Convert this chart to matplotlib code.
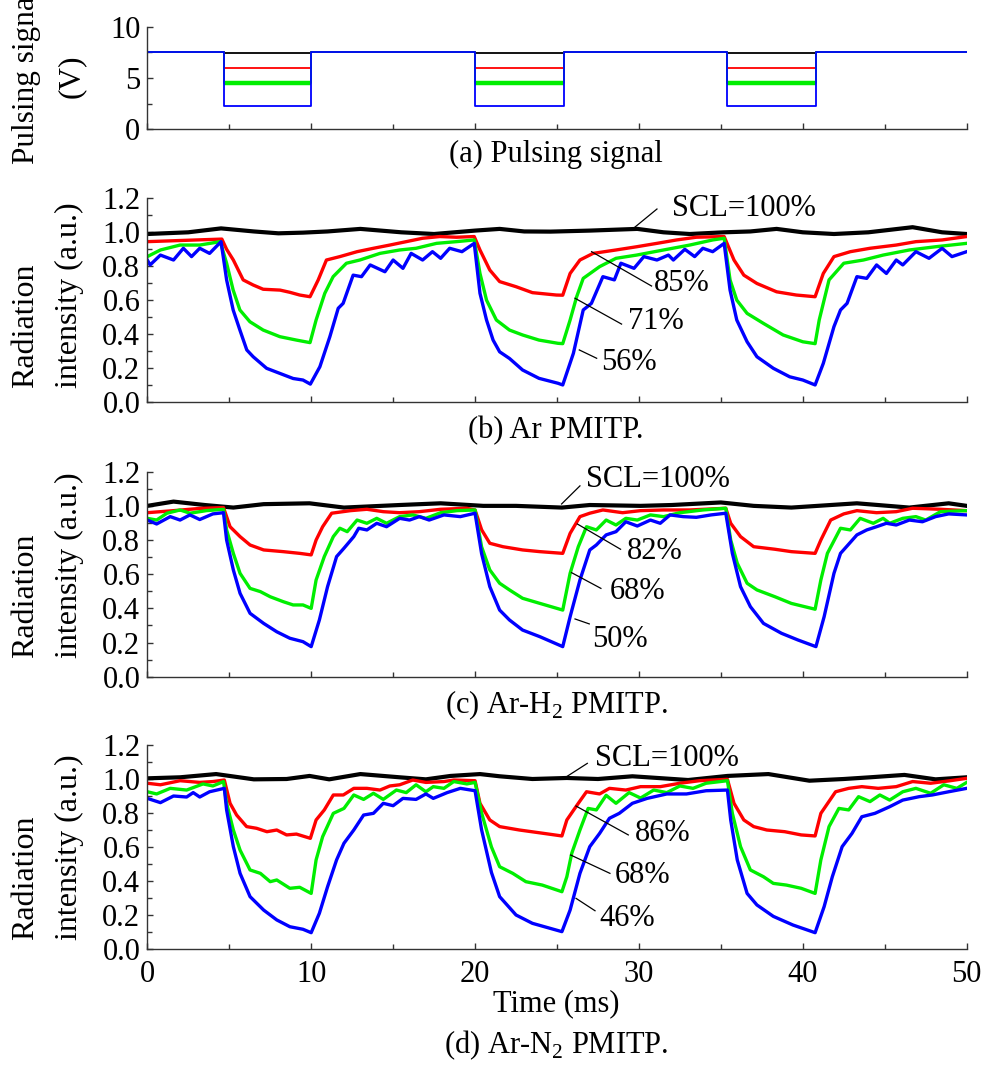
import matplotlib
matplotlib.use("Agg")
import matplotlib.pyplot as plt
from matplotlib.ticker import MultipleLocator

plt.rcParams['font.family'] = 'Liberation Serif'
plt.rcParams['mathtext.fontset'] = 'custom'
plt.rcParams['mathtext.rm'] = 'Liberation Serif'
plt.rcParams['font.size'] = 22

COLORS = ['black', '#ff0000', '#00ee00', '#0000ff']

# (a) pulsing signal: low intervals (ms) and voltage levels
PULSE_LOW = [(4.65, 10.0), (20.0, 25.4), (35.4, 40.8)]
PULSE_HIGH = 7.5
PULSE_LEVEL = [7.45, 5.95, 4.5, 2.3]   # black, red, green, blue during the low part

# (b) Ar PMITP
B_BLACK_T = [0, 2.5, 4.5, 6.5, 8, 9.5, 11, 13, 15.5, 17.5, 20, 21.5, 23, 24.6, 27, 29.9, 31.5, 33.1, 35.2, 36.8, 38.4, 40, 41.9, 44, 46.7, 48.5, 50]
B_BLACK_V = [0.99, 1.0, 1.023, 1.005, 0.994, 0.998, 1.005, 1.02, 1.0, 0.99, 1.01, 1.02, 1.005, 1.004, 1.01, 1.02, 1.0, 0.99, 1.0, 1.005, 1.02, 1.0, 0.99, 1.0, 1.03, 1.0, 0.99]
B_RED_T = [0, 3, 4.55, 4.84, 5.25, 5.85, 6.46, 7.07, 8.1, 8.7, 9.3, 9.93, 10.43, 10.93, 11.75, 12.8, 13.8, 14.8, 15.8, 16.8, 17.85, 18.86, 19.95, 20.3, 20.9, 21.5, 22.5, 23.5, 24.96, 25.35, 25.8, 26.4, 27.2, 28.6, 29.86, 31.1, 32.3, 33.5, 35.2, 35.8, 36.4, 37.2, 38.4, 39.6, 40.75, 41.25, 41.9, 42.9, 44.1, 45.7, 46.9, 48.5, 50]
B_RED_V = [0.945, 0.955, 0.96, 0.9, 0.837, 0.72, 0.69, 0.665, 0.66, 0.647, 0.631, 0.621, 0.72, 0.837, 0.857, 0.886, 0.906, 0.925, 0.945, 0.965, 0.975, 0.971, 0.975, 0.896, 0.778, 0.71, 0.68, 0.645, 0.631, 0.63, 0.758, 0.837, 0.876, 0.896, 0.915, 0.935, 0.955, 0.971, 0.975, 0.837, 0.748, 0.699, 0.65, 0.631, 0.621, 0.758, 0.857, 0.886, 0.906, 0.925, 0.945, 0.955, 0.975]
B_GREEN_T = [0, 0.8, 2.0, 3.2, 4.45, 4.84, 5.24, 5.65, 6.26, 7.07, 8.09, 9.1, 9.93, 10.3, 10.83, 11.34, 12.15, 12.97, 14.2, 15.4, 16.4, 17.65, 18.86, 19.95, 20.3, 20.7, 21.3, 22.1, 22.9, 23.9, 25.06, 25.35, 25.8, 26.2, 26.6, 27.6, 28.6, 29.86, 31.5, 33.1, 34.5, 35.2, 35.56, 35.97, 36.6, 37.6, 38.8, 40.0, 40.75, 41.0, 41.6, 42.5, 43.7, 44.9, 46.5, 48.1, 50]
B_GREEN_V = [0.857, 0.896, 0.925, 0.925, 0.945, 0.818, 0.66, 0.543, 0.474, 0.425, 0.386, 0.366, 0.351, 0.484, 0.641, 0.739, 0.818, 0.837, 0.876, 0.896, 0.906, 0.935, 0.945, 0.955, 0.758, 0.601, 0.484, 0.425, 0.396, 0.366, 0.347, 0.345, 0.484, 0.621, 0.729, 0.798, 0.847, 0.866, 0.896, 0.925, 0.955, 0.965, 0.72, 0.601, 0.523, 0.464, 0.396, 0.356, 0.345, 0.484, 0.72, 0.818, 0.837, 0.866, 0.896, 0.915, 0.935]
B_BLUE_T = [0, 0.17, 0.8, 1.6, 2.2, 2.7, 3.2, 3.8, 4.5, 4.84, 5.24, 5.65, 6.07, 6.46, 7.28, 8.09, 8.9, 9.5, 9.95, 10.53, 11.14, 11.65, 11.95, 12.56, 13.07, 13.6, 14.5, 15.0, 15.6, 16.1, 16.8, 17.4, 17.9, 18.45, 19.2, 19.95, 20.3, 20.7, 21.1, 21.5, 22.1, 22.9, 23.9, 25.06, 25.35, 26.0, 26.6, 27.1, 27.8, 28.5, 28.9, 29.7, 30.3, 31.1, 31.8, 32.1, 32.8, 33.4, 33.9, 34.5, 35.2, 35.56, 35.97, 36.6, 37.2, 38.2, 39.2, 40.0, 40.75, 41.25, 41.9, 42.3, 42.7, 43.3, 43.9, 44.5, 45.1, 45.7, 46.1, 46.9, 47.7, 48.5, 49.1, 50]
B_BLUE_V = [0.837, 0.808, 0.866, 0.837, 0.906, 0.857, 0.906, 0.876, 0.945, 0.72, 0.543, 0.425, 0.308, 0.268, 0.2, 0.17, 0.14, 0.131, 0.107, 0.209, 0.386, 0.553, 0.582, 0.748, 0.739, 0.808, 0.768, 0.837, 0.788, 0.876, 0.837, 0.886, 0.847, 0.906, 0.886, 0.935, 0.641, 0.484, 0.366, 0.297, 0.258, 0.19, 0.141, 0.112, 0.102, 0.288, 0.543, 0.582, 0.739, 0.72, 0.818, 0.788, 0.857, 0.837, 0.866, 0.837, 0.9, 0.857, 0.906, 0.886, 0.935, 0.66, 0.484, 0.356, 0.268, 0.2, 0.15, 0.131, 0.102, 0.229, 0.445, 0.543, 0.582, 0.739, 0.729, 0.808, 0.758, 0.837, 0.808, 0.886, 0.847, 0.906, 0.857, 0.886]

# (c) Ar-H2 PMITP
C_BLACK_T = [0, 1.6, 3.5, 5.25, 7.1, 9.9, 12, 15.4, 17.9, 20.5, 22.5, 25.3, 27, 30.1, 32, 35, 37, 39.3, 43.3, 46.5, 48.9, 50]
C_BLACK_V = [1.0, 1.025, 1.005, 0.99, 1.01, 1.015, 0.99, 1.005, 1.015, 1.0, 1.0, 0.99, 1.005, 1.0, 1.005, 1.02, 1.0, 0.99, 1.015, 0.99, 1.015, 1.0]
C_RED_T = [0, 1.6, 3.2, 4.65, 5.05, 5.66, 6.27, 7.1, 8.3, 9.3, 10.0, 10.3, 10.7, 11.25, 12.4, 13.4, 14.4, 15.4, 16.6, 17.9, 19.5, 20.0, 20.4, 20.9, 21.7, 22.9, 23.96, 25.35, 25.8, 26.4, 27.0, 27.8, 29.0, 30.1, 31.5, 33.1, 35.3, 35.6, 36.2, 37.0, 38.3, 39.3, 40.75, 41.1, 41.7, 42.5, 43.3, 44.5, 45.7, 46.7, 48.4, 50]
C_RED_V = [0.96, 0.972, 0.985, 0.99, 0.878, 0.82, 0.771, 0.742, 0.732, 0.722, 0.713, 0.8, 0.878, 0.957, 0.972, 0.98, 0.966, 0.96, 0.966, 0.98, 0.986, 0.976, 0.86, 0.781, 0.761, 0.742, 0.732, 0.722, 0.839, 0.937, 0.957, 0.976, 0.96, 0.972, 0.976, 0.976, 0.986, 0.898, 0.82, 0.761, 0.746, 0.732, 0.722, 0.8, 0.917, 0.953, 0.972, 0.96, 0.966, 0.986, 0.98, 0.972]
C_GREEN_T = [0, 0.57, 1.2, 2.0, 2.6, 3.6, 4.65, 4.84, 5.25, 5.66, 6.27, 6.9, 7.5, 8.3, 8.9, 9.5, 10.0, 10.3, 10.8, 11.35, 11.75, 12.2, 12.8, 13.4, 14.0, 14.6, 15.4, 16.2, 17.0, 17.9, 18.9, 20.0, 20.4, 20.9, 21.5, 22.1, 22.9, 23.96, 25.35, 25.8, 26.3, 26.8, 27.4, 28.0, 28.6, 29.2, 29.9, 30.7, 31.5, 32.5, 33.9, 35.3, 35.6, 36.0, 36.6, 37.2, 38.3, 39.3, 40.75, 41.1, 41.5, 42.3, 42.9, 43.5, 44.3, 44.9, 45.3, 46.1, 46.9, 47.5, 48.4, 50]
C_GREEN_V = [0.927, 0.917, 0.957, 0.976, 0.957, 0.972, 0.98, 0.859, 0.722, 0.605, 0.517, 0.498, 0.468, 0.439, 0.42, 0.42, 0.4, 0.566, 0.703, 0.82, 0.869, 0.849, 0.917, 0.898, 0.927, 0.898, 0.937, 0.947, 0.927, 0.96, 0.972, 0.976, 0.76, 0.625, 0.547, 0.508, 0.459, 0.429, 0.39, 0.605, 0.761, 0.878, 0.859, 0.917, 0.888, 0.927, 0.917, 0.947, 0.937, 0.96, 0.976, 0.986, 0.8, 0.664, 0.547, 0.508, 0.468, 0.429, 0.395, 0.566, 0.722, 0.869, 0.859, 0.927, 0.898, 0.927, 0.898, 0.927, 0.937, 0.917, 0.966, 0.972]
C_BLUE_T = [0, 0.57, 1.4, 2.0, 2.6, 3.2, 4.0, 4.65, 4.84, 5.25, 5.66, 6.27, 7.1, 7.9, 8.7, 9.5, 10.0, 10.5, 11.0, 11.55, 12.0, 12.6, 12.9, 13.4, 14.0, 14.6, 15.4, 16.0, 16.6, 17.2, 18.1, 19.1, 20.0, 20.4, 20.9, 21.5, 22.1, 22.9, 23.96, 25.35, 25.8, 26.4, 27.0, 27.4, 28.0, 28.6, 29.2, 29.9, 30.7, 31.3, 31.9, 32.7, 33.5, 34.4, 35.3, 35.7, 36.2, 36.8, 37.6, 38.7, 39.7, 40.8, 41.3, 41.9, 42.3, 42.7, 43.3, 43.9, 44.5, 45.1, 45.7, 46.5, 47.3, 48.1, 48.9, 50]
C_BLUE_V = [0.917, 0.894, 0.937, 0.917, 0.947, 0.92, 0.953, 0.96, 0.8, 0.625, 0.488, 0.371, 0.312, 0.263, 0.225, 0.205, 0.176, 0.332, 0.527, 0.703, 0.752, 0.82, 0.869, 0.859, 0.898, 0.878, 0.927, 0.917, 0.937, 0.917, 0.947, 0.937, 0.957, 0.72, 0.527, 0.39, 0.332, 0.273, 0.234, 0.176, 0.351, 0.566, 0.742, 0.771, 0.83, 0.849, 0.907, 0.882, 0.917, 0.898, 0.947, 0.937, 0.933, 0.947, 0.957, 0.722, 0.527, 0.41, 0.312, 0.254, 0.215, 0.176, 0.351, 0.605, 0.722, 0.765, 0.83, 0.859, 0.878, 0.898, 0.888, 0.917, 0.907, 0.937, 0.953, 0.947]

# (d) Ar-N2 PMITP
D_BLACK_T = [0, 2, 4.2, 6.5, 8.5, 9.9, 11.1, 13.0, 15.4, 17.0, 18.5, 20.3, 21.5, 23.5, 25.6, 27.5, 29.6, 33.0, 35.4, 37.9, 40.4, 42.5, 44.1, 46.2, 48.1, 50]
D_BLACK_V = [1.004, 1.01, 1.029, 0.998, 1.0, 1.018, 0.998, 1.029, 1.01, 0.998, 1.018, 1.029, 1.016, 1.0, 1.006, 1.0, 1.016, 0.994, 1.018, 1.029, 0.99, 1.0, 1.01, 1.024, 0.998, 1.01]
D_RED_T = [0, 0.8, 2.0, 3.2, 4.0, 4.7, 5.05, 5.45, 6.06, 6.67, 7.3, 7.9, 8.5, 9.1, 9.95, 10.3, 10.8, 11.35, 11.96, 12.6, 13.4, 14.2, 14.8, 15.4, 16.2, 17.0, 18.1, 18.7, 20.0, 20.3, 20.9, 21.5, 22.7, 23.9, 25.3, 25.6, 26.3, 26.8, 27.6, 28.2, 29.2, 30.1, 31.3, 32.5, 33.7, 35.4, 35.8, 36.4, 37.0, 37.8, 38.9, 39.9, 40.75, 41.1, 42.0, 42.8, 43.6, 44.6, 45.7, 46.7, 47.8, 49.0, 50]
D_RED_V = [0.975, 0.966, 0.99, 0.98, 0.985, 0.994, 0.857, 0.788, 0.72, 0.71, 0.69, 0.7, 0.671, 0.676, 0.651, 0.759, 0.818, 0.906, 0.906, 0.945, 0.945, 0.935, 0.959, 0.966, 0.994, 0.98, 0.985, 0.994, 0.99, 0.857, 0.759, 0.72, 0.7, 0.684, 0.665, 0.759, 0.857, 0.925, 0.912, 0.945, 0.935, 0.955, 0.955, 0.975, 0.99, 0.998, 0.857, 0.759, 0.72, 0.7, 0.69, 0.671, 0.665, 0.798, 0.925, 0.945, 0.955, 0.945, 0.955, 0.985, 0.975, 0.99, 1.004]
D_GREEN_T = [0, 0.57, 1.4, 2.4, 3.4, 4.0, 4.65, 4.84, 5.25, 5.66, 6.27, 6.9, 7.5, 7.9, 8.7, 9.3, 10.0, 10.3, 10.7, 11.35, 12.0, 12.6, 13.2, 13.8, 14.4, 15.2, 15.8, 16.4, 17.0, 17.45, 18.1, 18.7, 19.5, 20.0, 20.4, 21.0, 21.5, 22.3, 23.1, 24.1, 25.3, 25.6, 25.9, 26.4, 26.9, 27.4, 28.0, 28.6, 29.4, 30.1, 30.9, 31.7, 32.5, 33.3, 34.1, 35.4, 35.7, 36.2, 36.8, 37.6, 38.2, 39.0, 39.9, 40.75, 41.1, 41.6, 42.2, 42.8, 43.4, 44.1, 44.7, 45.3, 46.1, 46.9, 47.8, 48.6, 49.4, 50]
D_GREEN_V = [0.925, 0.912, 0.945, 0.935, 0.971, 0.959, 0.985, 0.857, 0.7, 0.582, 0.465, 0.445, 0.396, 0.406, 0.357, 0.363, 0.327, 0.524, 0.661, 0.798, 0.827, 0.906, 0.88, 0.916, 0.88, 0.935, 0.92, 0.966, 0.925, 0.955, 0.945, 0.985, 0.971, 0.98, 0.8, 0.6, 0.484, 0.445, 0.396, 0.376, 0.337, 0.425, 0.563, 0.7, 0.827, 0.818, 0.904, 0.857, 0.92, 0.888, 0.935, 0.92, 0.959, 0.945, 0.975, 0.99, 0.798, 0.602, 0.465, 0.425, 0.386, 0.376, 0.357, 0.327, 0.524, 0.72, 0.827, 0.818, 0.896, 0.867, 0.906, 0.876, 0.925, 0.945, 0.916, 0.966, 0.945, 0.98]
D_BLUE_T = [0, 0.8, 1.6, 2.4, 2.8, 3.2, 3.8, 4.7, 4.84, 5.25, 5.66, 6.27, 7.1, 7.9, 8.7, 9.5, 10.0, 10.5, 11.0, 11.55, 12.0, 12.6, 13.2, 13.8, 14.4, 15.0, 15.6, 16.4, 17.0, 17.45, 18.3, 19.1, 20.0, 20.4, 21.0, 21.5, 22.5, 23.5, 25.3, 25.8, 26.4, 27.0, 27.6, 28.2, 28.8, 29.6, 30.5, 31.7, 32.9, 34.1, 35.4, 35.6, 36.0, 36.6, 37.2, 38.2, 39.4, 40.75, 41.3, 41.8, 42.4, 43.0, 43.6, 44.4, 45.3, 46.1, 47.1, 47.9, 48.9, 50]
D_BLUE_V = [0.886, 0.861, 0.9, 0.894, 0.92, 0.894, 0.925, 0.945, 0.818, 0.602, 0.445, 0.308, 0.229, 0.171, 0.131, 0.116, 0.096, 0.21, 0.366, 0.524, 0.622, 0.7, 0.788, 0.798, 0.857, 0.843, 0.886, 0.88, 0.912, 0.886, 0.92, 0.945, 0.931, 0.7, 0.45, 0.308, 0.2, 0.151, 0.102, 0.229, 0.445, 0.602, 0.68, 0.769, 0.798, 0.857, 0.886, 0.912, 0.912, 0.931, 0.935, 0.759, 0.524, 0.327, 0.259, 0.192, 0.141, 0.096, 0.249, 0.425, 0.602, 0.68, 0.778, 0.798, 0.837, 0.876, 0.896, 0.906, 0.925, 0.945]

CAPTIONS = ['(a) Pulsing signal', '(b) Ar PMITP.', '(c) Ar-H$_\\mathrm{2}$ PMITP.', '(d) Ar-N$_\\mathrm{2}$ PMITP.']

# labels: (text, text x, text y, line start, line end)
B_LABELS = [('SCL=100%', 32.0, 1.14, (29.76, 1.031), (31.1, 1.137)),
            ('85%', 30.93, 0.70, (27.11, 0.886), (30.77, 0.684)),
            ('71%', 29.35, 0.474, (26.1, 0.612), (28.94, 0.46)),
            ('56%', 27.72, 0.233, (26.36, 0.308), (27.42, 0.259))]
C_LABELS = [('SCL=100%', 26.78, 1.152, (25.28, 1.011), (26.4, 1.117)),
            ('82%', 29.25, 0.732, (26.24, 0.894), (28.88, 0.746)),
            ('68%', 28.19, 0.498, (25.89, 0.609), (27.68, 0.517)),
            ('50%', 27.17, 0.215, (26.1, 0.338), (26.97, 0.309))]
D_LABELS = [('SCL=100%', 27.32, 1.122, (25.59, 1.014), (26.85, 1.092)),
            ('86%', 29.76, 0.68, (26.16, 0.841), (29.35, 0.671)),
            ('68%', 28.54, 0.435, (25.83, 0.553), (28.23, 0.445)),
            ('46%', 27.58, 0.18, (26.16, 0.298), (27.32, 0.225))]

panels = [
    ([(B_BLACK_T, B_BLACK_V), (B_RED_T, B_RED_V), (B_GREEN_T, B_GREEN_V), (B_BLUE_T, B_BLUE_V)], B_LABELS),
    ([(C_BLACK_T, C_BLACK_V), (C_RED_T, C_RED_V), (C_GREEN_T, C_GREEN_V), (C_BLUE_T, C_BLUE_V)], C_LABELS),
    ([(D_BLACK_T, D_BLACK_V), (D_RED_T, D_RED_V), (D_GREEN_T, D_GREEN_V), (D_BLUE_T, D_BLUE_V)], D_LABELS),
]

W, H = 984, 1070
fig = plt.figure(figsize=(W / 100, H / 100), dpi=100)


def px_axes(top, bottom, left=147.3, right=966.7):
    return fig.add_axes([left / W, 1 - bottom / H, (right - left) / W, (bottom - top) / H])


def style(ax):
    for s in ['top', 'right']:
        ax.spines[s].set_visible(False)
    for s in ['left', 'bottom']:
        ax.spines[s].set_linewidth(1.0)
        ax.spines[s].set_color('#333333')
    ax.tick_params(which='both', direction='in', width=1.0, color='#333333')
    ax.tick_params(which='major', length=4.5, pad=5)
    ax.tick_params(which='minor', length=3.5)
    ax.set_xlim(0, 50)
    ax.xaxis.set_major_locator(MultipleLocator(10))
    ax.xaxis.set_minor_locator(MultipleLocator(5))


# panel (a)
ax = px_axes(26.7, 129.3)
style(ax)
ax.set_ylim(0, 10)
ax.yaxis.set_major_locator(MultipleLocator(5))
ax.yaxis.set_minor_locator(MultipleLocator(2.5))
ax.set_xticklabels([])
for color, low in zip(COLORS, PULSE_LEVEL):
    t = [0]
    v = [PULSE_HIGH]
    for t0, t1 in PULSE_LOW:
        t += [t0, t0, t1, t1]
        v += [PULSE_HIGH, low, low, PULSE_HIGH]
    t.append(50)
    v.append(PULSE_HIGH)
    ax.plot(t, v, color=color, lw=1.3)
    if color == '#00ee00':
        # the green level is drawn heavier while the pulse is low
        for t0, t1 in PULSE_LOW:
            ax.plot([t0, t1], [low, low], color=color, lw=3.2, solid_capstyle='butt')
fig.text(49 / W, 1 - 76 / H, 'Pulsing signal\n(V)', rotation=90, ha='center', va='center',
         multialignment='center', linespacing=1.7, fontsize=22.5)
fig.text(556 / W, 1 - 154 / H, CAPTIONS[0], ha='center', va='center')

# panels (b)-(d)
tops = [198.3, 471.7, 745.0]
bottoms = [402.3, 676.7, 949.0]
label_bottoms = [388, 658, 940]
caption_y = [431, 705, 1045]
for i, (series, labels) in enumerate(panels):
    ax = px_axes(tops[i], bottoms[i])
    style(ax)
    ax.set_ylim(0, 1.2)
    ax.yaxis.set_major_locator(MultipleLocator(0.2))
    ax.yaxis.set_minor_locator(MultipleLocator(0.1))
    ax.yaxis.set_major_formatter(plt.FormatStrFormatter('%.1f'))
    for color, (t, v) in zip(COLORS, series):
        ax.plot(t, v, color=color, lw=3.0 if color == 'black' else 2.4, solid_joinstyle='round')
    for text, tx, ty, p0, p1 in labels:
        ax.plot([p0[0], p1[0]], [p0[1], p1[1]], color='black', lw=0.9)
        ax.text(tx, ty, text, ha='left', va='center')
    if i < 2:
        ax.set_xticklabels([])
    else:
        ax.tick_params(axis='x', pad=8)
    fig.text(47.5 / W, 1 - label_bottoms[i] / H, 'Radiation\nintensity (a.u.)', rotation=90,
             ha='center', va='bottom', multialignment='left', linespacing=1.65, fontsize=23)
    fig.text(556 / W, 1 - caption_y[i] / H, CAPTIONS[i + 1], ha='center', va='center')

fig.text(556 / W, 1 - 1004 / H, 'Time (ms)', ha='center', va='center')

fig.savefig('out.png', dpi=100)
